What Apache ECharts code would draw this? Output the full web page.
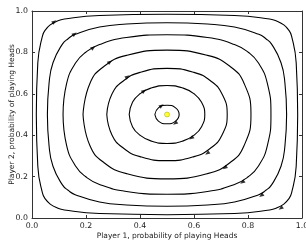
<!DOCTYPE html>
<html>
<head>
<meta charset="utf-8">
<script src="https://cdn.jsdelivr.net/npm/echarts@6/dist/echarts.min.js"></script>
<style>
html, body { margin: 0; padding: 0; background: #fff; }
#main { width: 306px; height: 247px; }
</style>
</head>
<body>
<div id="main"></div>
<script>
// tick labels
var ticks = [0.0, 0.2, 0.4, 0.6, 0.8, 1.0];

// closed orbits (outer -> inner), clockwise from the left crossing
var orbit1 = [[0.016,0.5],[0.0215,0.75],[0.0388,0.88],[0.0506,0.91],[0.0673,0.9327],[0.09,0.9494],[0.12,0.9612],[0.25,0.9785],[0.5,0.984],
  [0.75,0.9785],[0.88,0.9612],[0.91,0.9494],[0.9327,0.9327],[0.9494,0.91],[0.9612,0.88],[0.9785,0.75],[0.984,0.5],
  [0.9785,0.25],[0.9612,0.12],[0.9494,0.09],[0.9327,0.0673],[0.91,0.0506],[0.88,0.0388],[0.75,0.0215],[0.5,0.016],
  [0.25,0.0215],[0.12,0.0388],[0.09,0.0506],[0.0673,0.0673],[0.0506,0.09],[0.0388,0.12],[0.0215,0.25],[0.016,0.5]];
var orbit2 = [[0.057,0.5],[0.0631,0.65],[0.0777,0.75],[0.1127,0.84],[0.1338,0.8662],[0.16,0.8873],[0.25,0.9223],[0.35,0.9369],[0.5,0.943],
  [0.65,0.9369],[0.75,0.9223],[0.84,0.8873],[0.8662,0.8662],[0.8873,0.84],[0.9223,0.75],[0.9369,0.65],[0.943,0.5],
  [0.9369,0.35],[0.9223,0.25],[0.8873,0.16],[0.8662,0.1338],[0.84,0.1127],[0.75,0.0777],[0.65,0.0631],[0.5,0.057],
  [0.35,0.0631],[0.25,0.0777],[0.16,0.1127],[0.1338,0.1338],[0.1127,0.16],[0.0777,0.25],[0.0631,0.35],[0.057,0.5]];
var orbit3 = [[0.115,0.5],[0.1283,0.65],[0.1619,0.75],[0.1992,0.8008],[0.25,0.8381],[0.35,0.8717],[0.5,0.885],
  [0.65,0.8717],[0.75,0.8381],[0.8008,0.8008],[0.8381,0.75],[0.8717,0.65],[0.885,0.5],
  [0.8717,0.35],[0.8381,0.25],[0.8008,0.1992],[0.75,0.1619],[0.65,0.1283],[0.5,0.115],
  [0.35,0.1283],[0.25,0.1619],[0.1992,0.1992],[0.1619,0.25],[0.1283,0.35],[0.115,0.5]];
var orbit4 = [[0.189,0.5],[0.2144,0.65],[0.2671,0.7329],[0.35,0.7856],[0.5,0.811],
  [0.65,0.7856],[0.7329,0.7329],[0.7856,0.65],[0.811,0.5],
  [0.7856,0.35],[0.7329,0.2671],[0.65,0.2144],[0.5,0.189],
  [0.35,0.2144],[0.2671,0.2671],[0.2144,0.35],[0.189,0.5]];
var orbit5 = [[0.277,0.5],[0.2966,0.6],[0.338,0.662],[0.4,0.7034],[0.5,0.723],
  [0.6,0.7034],[0.662,0.662],[0.7034,0.6],[0.723,0.5],
  [0.7034,0.4],[0.662,0.338],[0.6,0.2966],[0.5,0.277],
  [0.4,0.2966],[0.338,0.338],[0.2966,0.4],[0.277,0.5]];
var orbit6 = [[0.36,0.5],[0.3726,0.56],[0.4,0.6],[0.44,0.6274],[0.5,0.64],
  [0.56,0.6274],[0.6,0.6],[0.6274,0.56],[0.64,0.5],
  [0.6274,0.44],[0.6,0.4],[0.56,0.3726],[0.5,0.36],
  [0.44,0.3726],[0.4,0.4],[0.3726,0.44],[0.36,0.5]];
var orbit7 = [[0.455,0.5],[0.4682,0.5318],[0.5,0.545],
  [0.5318,0.5318],[0.545,0.5],
  [0.5318,0.4682],[0.5,0.455],
  [0.4682,0.4682],[0.455,0.5]];

// arrow heads on the orbits
var arrows = [[0.083,0.948],[0.158,0.889],[0.227,0.823],[0.289,0.754],[0.354,0.683],[0.415,0.614],[0.480,0.543],
  [0.921,0.047],[0.849,0.108],[0.779,0.172],[0.714,0.242],[0.649,0.313],[0.590,0.386],[0.530,0.457]];

// fixed point
var center = [[0.5, 0.5]];

var orbits = [orbit1, orbit2, orbit3, orbit4, orbit5, orbit6, orbit7];

var chart = echarts.init(document.getElementById('main'));

var font = 'DejaVu Sans';
var axisCol = '#333';

function makeAxis(pos, withLabel, name) {
  return {
    type: 'value',
    position: pos,
    min: 0,
    max: 1,
    interval: 0.2,
    name: name || '',
    nameLocation: 'middle',
    nameGap: (pos == 'bottom') ? 14 : 16,
    nameMoveOverlap: false,
    nameTextStyle: { fontFamily: font, fontSize: 7.5, color: '#222' },
    axisLine: { show: true, onZero: false, lineStyle: { color: axisCol, width: 1 } },
    axisTick: { show: true, inside: true, length: 3, lineStyle: { color: axisCol } },
    axisLabel: {
      show: withLabel,
      fontFamily: font,
      fontSize: 7.8,
      color: '#222',
      margin: 4,
      formatter: function (v) { return v.toFixed(1); }
    },
    splitLine: { show: false }
  };
}

var series = orbits.map(function (o) {
  return {
    type: 'line',
    data: o,
    smooth: 0.5,
    showSymbol: false,
    silent: true,
    lineStyle: { color: '#000', width: 1.1 },
    xAxisIndex: 0,
    yAxisIndex: 0
  };
});

series.push({
  type: 'scatter',
  data: arrows,
  symbol: 'triangle',
  symbolSize: [4, 5],
  symbolRotate: function (v) { return v[1] > 0.5 ? -55 : 125; },
  itemStyle: { color: '#000' },
  silent: true
});

series.push({
  type: 'scatter',
  data: center,
  symbol: 'circle',
  symbolSize: 5,
  itemStyle: { color: '#ffff00', borderColor: '#9a9a00', borderWidth: 0.6 },
  silent: true
});

var option = {
  animation: false,
  backgroundColor: '#fff',
  grid: { left: 32, right: 4, top: 11, bottom: 29, containLabel: false, outerBoundsMode: 'none' },
  xAxis: [
    makeAxis('bottom', true, 'Player 1, probability of playing Heads'),
    makeAxis('top', false)
  ],
  yAxis: [
    makeAxis('left', true, 'Player 2, probability of playing Heads'),
    makeAxis('right', false)
  ],
  series: series
};
chart.setOption(option);
</script>
</body>
</html>
